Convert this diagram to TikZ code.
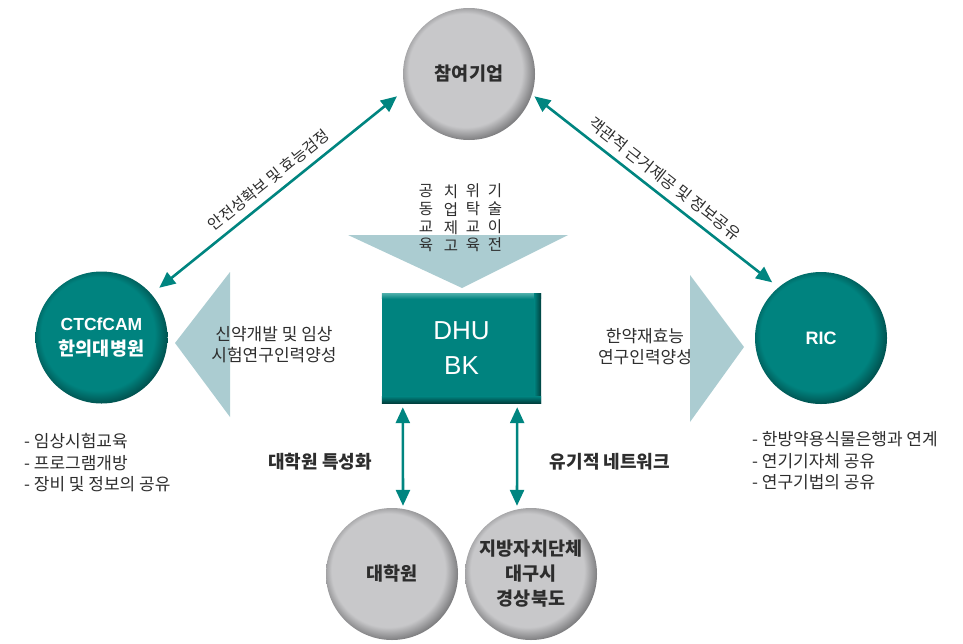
\documentclass[tikz,border=0pt]{standalone}
\usepackage{fontspec}
\setmainfont{Noto Sans CJK KR}
\newfontfamily\lat{Liberation Sans}
\usetikzlibrary{arrows.meta,calc}
\definecolor{tealC}{RGB}{0,131,127}
\definecolor{tealD}{RGB}{0,62,60}
\definecolor{tealL}{RGB}{70,170,166}
\definecolor{grayC}{RGB}{200,200,202}
\definecolor{grayD}{RGB}{95,95,97}
\definecolor{triC}{RGB}{171,204,209}
\definecolor{txt}{RGB}{45,45,45}
\definecolor{arrC}{RGB}{0,133,128}
\pgfdeclareradialshading{tealbevel}{\pgfpoint{-3bp}{3bp}}{color(0bp)=(tealC); color(21.5bp)=(tealC); color(28bp)=(tealD); color(40bp)=(tealD)}
\pgfdeclareradialshading{graybevel}{\pgfpoint{-3bp}{3bp}}{color(0bp)=(grayC); color(21.5bp)=(grayC); color(28bp)=(grayD); color(40bp)=(grayD)}
\tikzset{
  tealcirc/.style={circle, minimum size=132pt, inner sep=0pt, shade, shading=tealbevel, text=white, align=center},
  graycirc/.style={circle, minimum size=132pt, inner sep=0pt, shade, shading=graybevel, text=txt, align=center, font=\bfseries\fontsize{18.5}{25}\selectfont},
  biarrow/.style={draw=arrC, line width=2.6pt, {Triangle[length=16pt,width=14pt]}-{Triangle[length=16pt,width=14pt]}},
  lbl/.style={text=txt, inner sep=0pt, align=center, font=\fontsize{17}{21}\selectfont},
  blbl/.style={text=txt, inner sep=0pt, align=center, font=\bfseries\fontsize{18}{21}\selectfont},
  collbl/.style={text=txt, inner sep=0pt, align=center, font=\fontsize{15.5}{18}\selectfont},
  listlbl/.style={text=txt, inner sep=0pt, align=left, anchor=west, font=\fontsize{17}{21.5}\selectfont},
  tri/.style={fill=triC}
}
\begin{document}
\begin{tikzpicture}[x=1pt,y=-1pt]
\useasboundingbox (0,0) rectangle (963,643);
% light triangles
\fill[tri] (348,235) -- (568,235) -- (462,288) -- cycle;
\fill[tri] (230,272) -- (230,417) -- (175,343) -- cycle;
\fill[tri] (690,275) -- (690,422) -- (744,347) -- cycle;
% circles
\node[graycirc] (top) at (469,74) {참여기업};
\node[tealcirc, font=\bfseries\fontsize{18.5}{25}\selectfont] (ctc) at (101.5,337.5) {{\lat\fontsize{17.5}{25}\selectfont CTCfCAM}\\한의대병원};
\node[tealcirc] (ric) at (821,338) {\lat\bfseries\fontsize{18}{22}\selectfont RIC};
\node[graycirc] (gs) at (392,574) {대학원};
\node[graycirc] (ls) at (531,574) {지방자치단체\\대구시\\경상북도};
% DHU BK box
\node[fill=tealC, minimum width=159pt, minimum height=109pt, inner sep=0pt] (dhu) at (461.5,348.5) {};
\shade[top color=tealL, bottom color=tealC] (dhu.north west) rectangle ([yshift=-5pt]dhu.north east);
\shade[left color=tealC, right color=tealD] ([xshift=-7pt]dhu.north east) rectangle (dhu.south east);
\shade[top color=tealC, bottom color=tealD] ([yshift=7pt]dhu.south west) rectangle (dhu.south east);
\node[text=white, align=center, inner sep=0pt, font=\lat\fontsize{26}{35}\selectfont] (dhutxt) at (dhu.center) {DHU\\BK};
% diagonal arrows
\draw[biarrow, shorten <=10pt, shorten >=10pt] (ctc.41) -- node[midway, sloped, above=7pt, lbl, font=\fontsize{15.5}{18}\selectfont] (l1) {안전성확보 및 효능검정} (top.194);
\draw[biarrow, shorten <=3pt, shorten >=8pt] (top.342) -- node[midway, sloped, above=7pt, lbl, font=\fontsize{16}{18}\selectfont] (l2) {객관적 근거제공 및 정보공유} (ric.130);
% vertical arrows
\draw[biarrow, shorten <=4pt, shorten >=2pt] ([xshift=21pt]dhu.south west) -- ([xshift=11pt]gs.north);
\draw[biarrow, shorten <=4pt, shorten >=2pt] ([xshift=-24pt]dhu.south east) -- ([xshift=-14pt]ls.north);
% triangle texts
\node[collbl] (c1) at (426,218) {공\\동\\교\\육};
\node[collbl] (c2) at (451,218) {치\\업\\제\\고};
\node[collbl] (c3) at (473,218) {위\\탁\\교\\육};
\node[collbl] (c4) at (495,218) {기\\술\\이\\전};
\node[lbl] (tl) at (274,345) {신약개발 및 임상\\시험연구인력양성};
\node[lbl] (tr) at (645,347) {한약재효능\\연구인력양성};
% bold labels
\node[blbl] (b1) at (320,462) {대학원 특성화};
\node[blbl] (b2) at (610,462) {유기적 네트워크};
% lists
\node[listlbl] (list1) at (24,463) {- 임상시험교육\\- 프로그램개방\\- 장비 및 정보의 공유};
\node[listlbl] (list2) at (752,461) {- 한방약용식물은행과 연계\\- 연기기자체 공유\\- 연구기법의 공유};
\end{tikzpicture}
\end{document}
